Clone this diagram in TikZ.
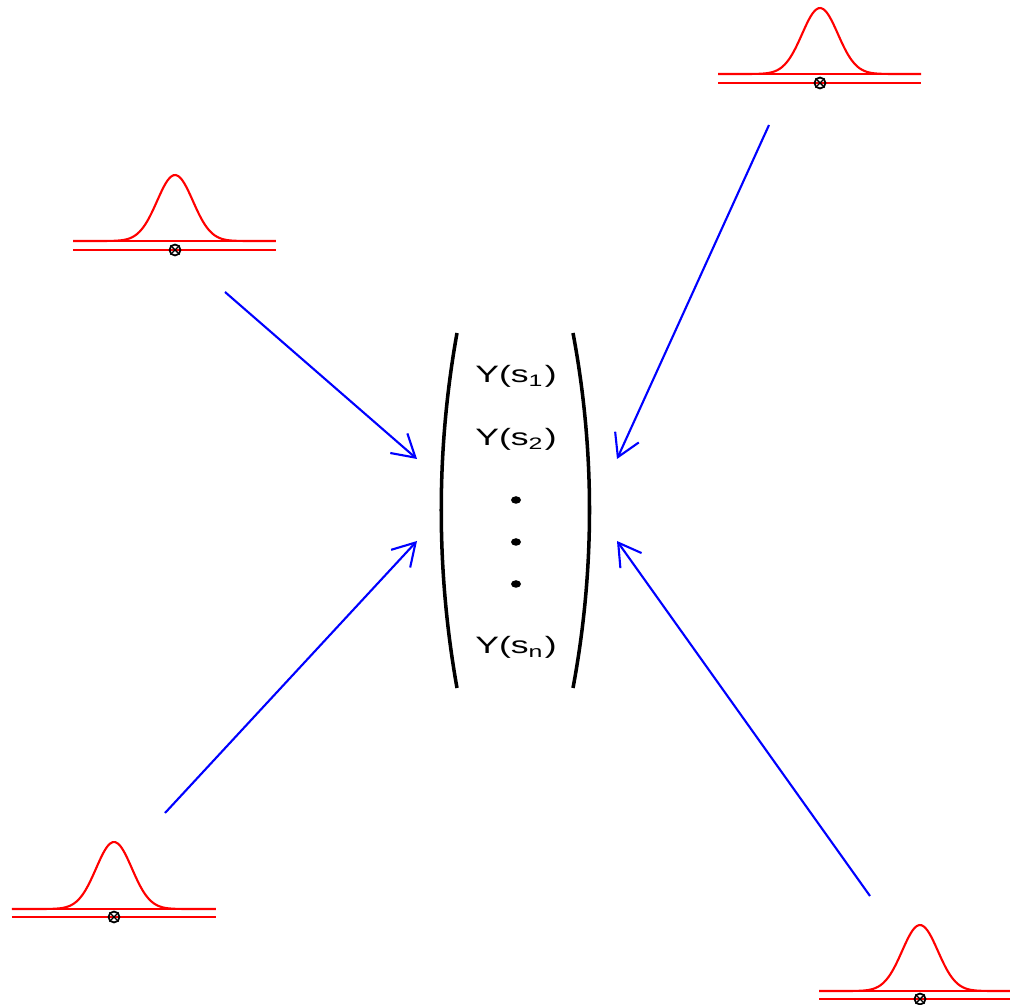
\documentclass[tikz,border=0pt]{standalone}
\usepackage{fontspec}
\setmainfont{Liberation Sans}
\usetikzlibrary{arrows.meta, shapes.geometric}

\begin{document}
\begin{tikzpicture}[
    density/.style={red, line width=0.6pt},
    site/.style={draw, circle, line width=0.5pt, minimum size=0.11cm, inner sep=0pt},
    arrow/.style={-{Straight Barb[length=2.2mm, width=2.6mm]}, blue, line width=0.6pt},
    paren/.style={line width=1pt},
    entry/.style={font=\fontsize{7.5}{9}\selectfont, xscale=1.35, yscale=0.9, transform shape, anchor=base, inner sep=0pt},
    dot/.style={ellipse, fill=black, minimum width=0.1cm, minimum height=0.075cm, inner sep=0pt},
]
\useasboundingbox (0,0) rectangle (10.10,-10.05);

% vector of observations
\draw[paren] (4.57,-3.33) .. controls (4.36,-4.5) and (4.36,-5.7) .. (4.57,-6.88);
\draw[paren] (5.73,-3.33) .. controls (5.95,-4.5) and (5.95,-5.7) .. (5.73,-6.88);
\node[entry] (y1) at (5.16,-3.83) {Y(s\textsubscript{1})};
\node[entry] (y2) at (5.16,-4.46) {Y(s\textsubscript{2})};
\node[dot] (d1) at (5.16,-5.00) {};
\node[dot] (d2) at (5.16,-5.42) {};
\node[dot] (d3) at (5.16,-5.84) {};
\node[entry] (yn) at (5.16,-6.54) {Y(s\textsubscript{n})};

% top left
\begin{scope}[shift={(1.75,-2.50)}]
  \draw[density] (-1.02,0) -- (1.01,0) (-1.02,0.09) -- (1.01,0.09);
  \draw[density] plot[domain=-1.02:1.01, samples=80, smooth] (\x, {0.09+0.66*exp(-(\x*\x)/0.064)});
  \node[site] (m1) at (0,0) {};
  \draw (m1.north west) -- (m1.south east) (m1.north east) -- (m1.south west);
\end{scope}

% top right
\begin{scope}[shift={(8.20,-0.83)}]
  \draw[density] (-1.02,0) -- (1.01,0) (-1.02,0.09) -- (1.01,0.09);
  \draw[density] plot[domain=-1.02:1.01, samples=80, smooth] (\x, {0.09+0.66*exp(-(\x*\x)/0.064)});
  \node[site] (m2) at (0,0) {};
  \draw (m2.north west) -- (m2.south east) (m2.north east) -- (m2.south west);
\end{scope}

% bottom left
\begin{scope}[shift={(1.14,-9.17)}]
  \draw[density] (-1.02,0) -- (1.02,0) (-1.02,0.08) -- (1.02,0.08);
  \draw[density] plot[domain=-1.02:1.02, samples=80, smooth] (\x, {0.08+0.67*exp(-(\x*\x)/0.064)});
  \node[site] (m3) at (0,0) {};
  \draw (m3.north west) -- (m3.south east) (m3.north east) -- (m3.south west);
\end{scope}

% bottom right
\begin{scope}[shift={(9.20,-9.99)}]
  \draw[density] (-1.01,0) -- (1.02,0) (-1.01,0.08) -- (1.02,0.08);
  \draw[density] plot[domain=-1.01:1.02, samples=80, smooth] (\x, {0.08+0.66*exp(-(\x*\x)/0.064)});
  \node[site] (m4) at (0,0) {};
  \draw (m4.north west) -- (m4.south east) (m4.north east) -- (m4.south west);
\end{scope}

\coordinate (from1) at (2.25,-2.92);
\coordinate (from2) at (7.69,-1.25);
\coordinate (from3) at (1.65,-8.13);
\coordinate (from4) at (8.70,-8.96);
\coordinate (to1) at (4.17,-4.59);
\coordinate (to2) at (6.17,-4.59);
\coordinate (to3) at (4.17,-5.41);
\coordinate (to4) at (6.17,-5.41);
\draw[arrow] (from1) -- (to1);
\draw[arrow] (from2) -- (to2);
\draw[arrow] (from3) -- (to3);
\draw[arrow] (from4) -- (to4);
\end{tikzpicture}
\end{document}
